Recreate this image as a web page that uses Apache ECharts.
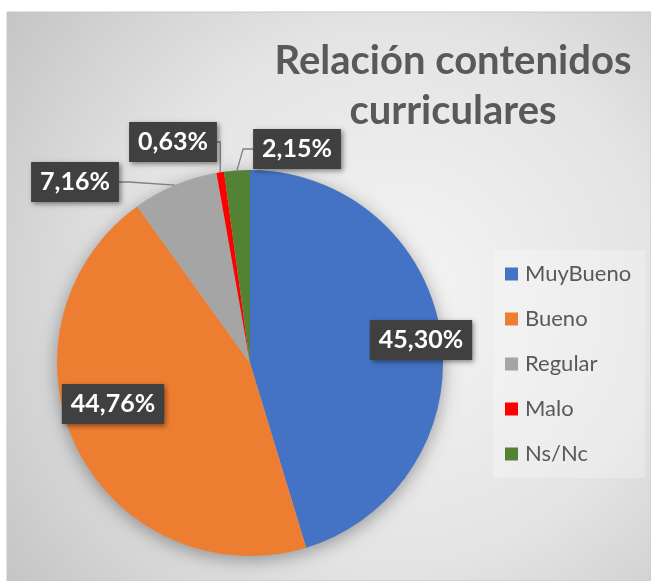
<!DOCTYPE html>
<html>
<head>
<meta charset="utf-8">
<script src="https://cdn.jsdelivr.net/npm/echarts@6/dist/echarts.min.js"></script>
<style>
    html, body { margin: 0; padding: 0; background: #fff; }
    #chart { width: 651px; height: 581px; }
</style>
</head>
<body>
<div id="chart"></div>
<script>
'use strict';

const categories = ['MuyBueno', 'Bueno', 'Regular', 'Malo', 'Ns/Nc'];
const percentages = [45.30, 44.76, 7.16, 0.63, 2.15];
const sliceColors = ['#4472c4', '#ed7d31', '#a5a5a5', '#ff0000', '#548235'];
const titleText = 'Relación contenidos\ncurriculares';

const total = percentages.reduce((a, b) => a + b, 0);

/*
 * Excel put the data labels by hand-ish "best fit", so move them
 * to the same spots (centre of each box).
 */
const labelSpots = [[421, 340], [113, 404], [75, 182], [173, 142], [297, 149]];

const chart = echarts.init(document.getElementById('chart'));

const pieCenter = [250, 363];
const pieRadius = 193;

chart.setOption({
    animation: false,
    backgroundColor: '#ffffff',
    graphic: [{
        type: 'rect',
        z: -10,
        shape: { x: 7, y: 12, width: 644, height: 569 },
        style: {
            fill: new echarts.graphic.RadialGradient(0.6, 0.5, 0.85, [
                { offset: 0, color: '#f5f5f5' },
                { offset: 0.55, color: '#e4e4e4' },
                { offset: 1, color: '#c4c4c4' }
            ]),
            stroke: '#c8c8c8',
            lineWidth: 1
        }
    }],
    title: {
        text: titleText,
        left: 453,
        top: 36,
        padding: 0,
        textAlign: 'center',
        textStyle: {
            fontFamily: 'Lato',
            fontWeight: 'bold',
            fontSize: 40,
            lineHeight: 50,
            color: '#595959'
        }
    },
    legend: {
        data: categories,
        orient: 'vertical',
        left: 493,
        top: 250,
        padding: [12, 14, 12, 12],
        backgroundColor: 'rgba(255,255,255,0.25)',
        icon: 'rect',
        itemWidth: 13,
        itemHeight: 13,
        itemGap: 21,
        textStyle: {
            fontFamily: 'Lato',
            fontSize: 22,
            lineHeight: 24,
            padding: [0, 0, 0, 2],
            color: '#595959'
        }
    },
    series: [
        {
            // soft drop shadow under the whole pie
            type: 'pie',
            silent: true,
            z: 1,
            center: pieCenter,
            radius: pieRadius,
            label: { show: false },
            labelLine: { show: false },
            itemStyle: {
                color: '#bbbbbb',
                shadowBlur: 18,
                shadowColor: 'rgba(0,0,0,0.35)',
                shadowOffsetY: 4
            },
            data: [{ value: total, name: '' }]
        },
        {
            type: 'pie',
            z: 2,
            center: pieCenter,
            radius: pieRadius,
            startAngle: 90,
            clockwise: true,
            avoidLabelOverlap: false,
            data: categories.map((name, i) => ({
                name: name,
                value: percentages[i],
                itemStyle: { color: sliceColors[i] },
                label: { position: i < 2 ? 'inside' : 'outside' },
                labelLine: { show: i >= 2 }
            })),
            label: {
                show: true,
                formatter: (p) => p.value.toFixed(2).replace('.', ',') + '%',
                fontFamily: 'Lato',
                fontWeight: 'bold',
                fontSize: 25,
                color: '#ffffff',
                backgroundColor: '#404040',
                padding: [8, 9, 7, 9],
                shadowBlur: 5,
                shadowColor: 'rgba(0,0,0,0.45)',
                shadowOffsetX: 2,
                shadowOffsetY: 2
            },
            labelLine: {
                length: 15,
                length2: 10,
                lineStyle: { color: '#7f7f7f', width: 1.3 }
            },
            labelLayout: (params) => {
                const spot = labelSpots[params.dataIndex];
                return {
                    x: spot[0],
                    y: spot[1],
                    align: 'center',
                    verticalAlign: 'middle'
                };
            }
        }
    ]
});
</script>
</body>
</html>
